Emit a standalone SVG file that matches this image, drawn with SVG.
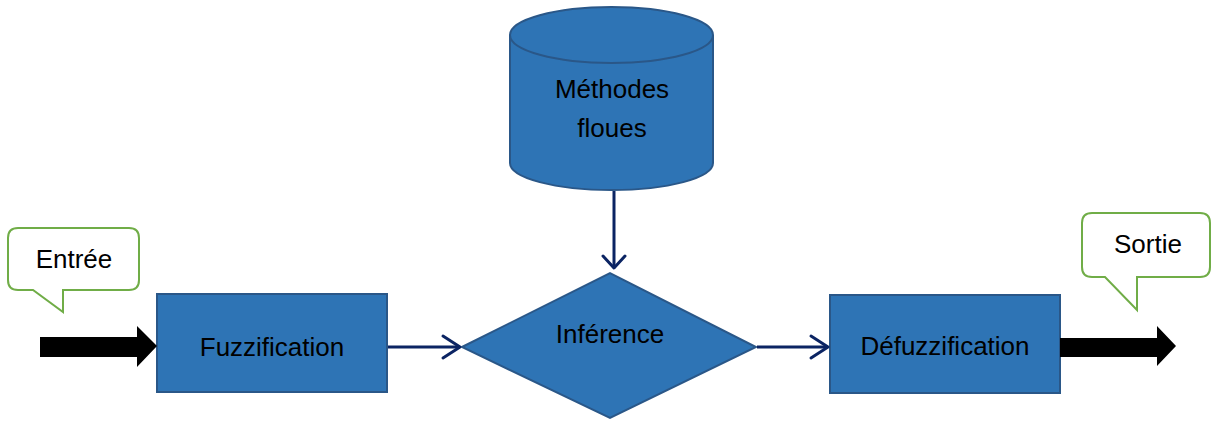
<svg xmlns="http://www.w3.org/2000/svg" width="1212" height="421" viewBox="0 0 1212 421">
<style>
.shape{fill:#2e74b5;stroke:#2a5788;stroke-width:2}
.lbl{font-family:"Liberation Sans",Arial,sans-serif;font-size:26px;fill:#000;text-anchor:middle}
.call{fill:#fff;stroke:#70ad47;stroke-width:2}
.con{stroke:#0b2463;stroke-width:3;fill:none}
.chev{stroke:#0b2463;stroke-width:3;fill:none;stroke-linecap:round;stroke-linejoin:round}
</style>
<rect width="1212" height="421" fill="#fff"/>
<g id="entree">
<path class="call" d="M18,228 H129 Q139,228 139,238 V280 Q139,290 129,290 H63 V312 L33,290 H18 Q8,290 8,280 V238 Q8,228 18,228 Z"/>
<text class="lbl" x="74" y="268">Entrée</text>
</g>
<g id="sortie">
<path class="call" d="M1092,213 H1200 Q1210,213 1210,223 V267 Q1210,277 1200,277 H1137 V310 L1105,277 H1092 Q1082,277 1082,267 V223 Q1082,213 1092,213 Z"/>
<text class="lbl" x="1148" y="253">Sortie</text>
</g>
<g id="methodes">
<path class="shape" d="M510,35 V163 A101.5,27 0 0 0 713,163 V35"/>
<ellipse class="shape" cx="611.5" cy="35" rx="101.5" ry="28"/>
<text class="lbl" x="612" y="98">Méthodes</text>
<text class="lbl" x="612" y="137">floues</text>
</g>
<g id="fuzzification">
<rect class="shape" x="157" y="294" width="230" height="98"/>
<text class="lbl" x="272" y="356">Fuzzification</text>
</g>
<g id="inference">
<polygon class="shape" points="462,347 610,273 756,347 610,418"/>
<text class="lbl" x="610" y="343">Inférence</text>
</g>
<g id="defuzzification">
<rect class="shape" x="830" y="295" width="230" height="98"/>
<text class="lbl" x="945" y="355">Défuzzification</text>
</g>
<g id="connectors">
<polygon fill="#000" points="40,337 137,337 137,326 157,346 137,367 137,357 40,357"/>
<polygon fill="#000" points="1060,338 1157,338 1157,326 1176,346 1157,366 1157,357 1060,357"/>
<line class="con" x1="614" y1="191" x2="614" y2="268"/>
<polyline class="chev" points="603,256 614,268 625,256"/>
<line class="con" x1="388" y1="347" x2="460" y2="347"/>
<polyline class="chev" points="443,336 460,347 443,358"/>
<line class="con" x1="757" y1="347" x2="828" y2="347"/>
<polyline class="chev" points="811,336 828,347 811,358"/>
</g>
</svg>
